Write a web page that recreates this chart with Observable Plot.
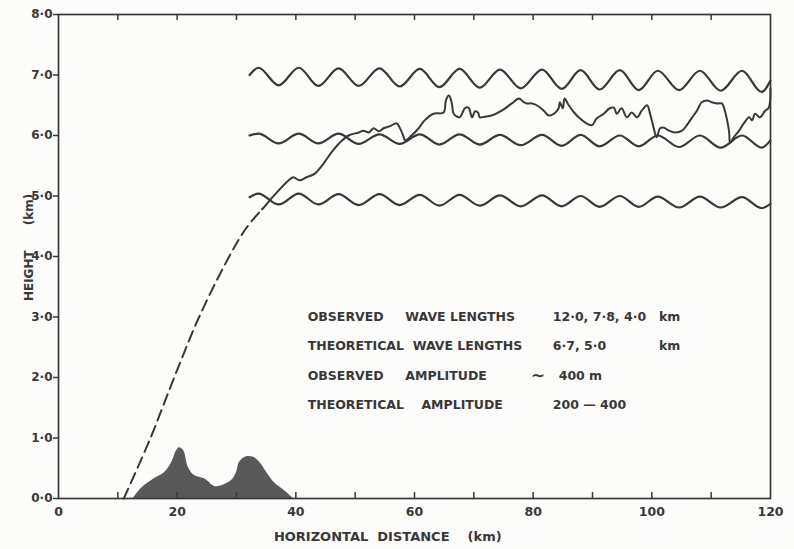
<!DOCTYPE html>
<html><head><meta charset="utf-8">
<script src="https://cdn.jsdelivr.net/npm/d3@7"></script>
<script src="https://cdn.jsdelivr.net/npm/@observablehq/plot@0.6"></script>
<style>
html,body{margin:0;padding:0;background:#fcfcfa;}
#chart svg{display:block;}
</style></head><body><div id="chart"></div>
<script>
// ---- data (km) ----
const xTicks = [0, 20, 40, 60, 80, 100, 120];
const xMinorTicks = [10, 20, 30, 40, 50, 60, 70, 80, 90, 100, 110];
const yTicks = [0, 1, 2, 3, 4, 5, 6, 7, 8];

// extrema positions of the three theoretical waves (shared phase)
const waveX = [32.2, 33.7, 37.1, 40.5, 43.8, 47.2, 50.6, 54.1, 57.5, 60.9, 64.2, 67.6, 71.0, 74.4, 77.9, 81.5, 84.8, 88.0, 91.2, 94.6, 97.8, 101.0, 104.6, 108.1, 111.6, 115.2, 118.5, 120];
const wave7 = [7.0, 7.12, 6.83, 7.12, 6.82, 7.11, 6.82, 7.11, 6.81, 7.10, 6.80, 7.10, 6.79, 7.09, 6.78, 7.09, 6.77, 7.08, 6.76, 7.08, 6.75, 7.07, 6.75, 7.07, 6.74, 7.07, 6.72, 6.91];
const wave6 = [6.0, 6.03, 5.87, 6.03, 5.87, 6.03, 5.86, 6.02, 5.86, 6.02, 5.85, 6.02, 5.85, 6.01, 5.84, 6.01, 5.83, 6.01, 5.82, 6.00, 5.82, 6.00, 5.81, 6.00, 5.80, 6.00, 5.80, 5.92];
const wave5 = [4.98, 5.04, 4.86, 5.04, 4.86, 5.03, 4.85, 5.03, 4.85, 5.02, 4.84, 5.02, 4.84, 5.01, 4.83, 5.01, 4.83, 5.00, 4.82, 5.00, 4.82, 4.99, 4.81, 4.99, 4.81, 4.98, 4.80, 4.87];

// observed streamline (solid)
const obsX = [34.3, 34.6, 35.9, 38.8, 39.6, 40.6, 41.8, 43.2, 44.7, 46.0,
  47.4, 48.9, 50.6, 51.4, 52.3, 53.1, 54.0, 54.8, 55.8, 57.0,
  57.5, 58.2, 58.4, 59.5, 60.7, 61.7, 63.2, 64.9, 65.3, 65.8,
  66.3, 66.6, 67.6, 68.5, 69.1, 69.7, 70.2, 70.7, 71.0, 71.8,
  73.0, 74.7, 76.4, 77.6, 78.4, 78.9, 79.8, 80.6, 81.8, 82.6,
  83.5, 84.3, 84.5, 85.0, 85.3, 86.0, 86.9, 87.9, 89.0, 89.9,
  90.7, 91.9, 92.9, 93.6, 94.1, 94.9, 95.8, 96.6, 97.5, 98.3,
  99.2, 99.7, 100.3, 100.8, 101.4, 102.0, 102.9, 103.9, 105.1, 105.9,
  106.8, 107.6, 108.4, 109.3, 110.1, 111.0, 111.8, 112.3, 113.0, 113.2,
  113.8, 114.7, 115.5, 116.4, 116.9, 117.4, 118.2, 119.1, 119.7, 120.0];
const obsY = [4.78, 4.81, 4.96, 5.26, 5.31, 5.26, 5.31, 5.37, 5.54, 5.72,
  5.88, 6.00, 6.05, 6.08, 6.05, 6.12, 6.07, 6.12, 6.15, 6.20,
  6.13, 5.97, 5.92, 6.00, 6.12, 6.25, 6.36, 6.38, 6.58, 6.66,
  6.53, 6.36, 6.30, 6.45, 6.46, 6.30, 6.40, 6.38, 6.30, 6.31,
  6.33, 6.41, 6.53, 6.61, 6.55, 6.53, 6.53, 6.50, 6.41, 6.33,
  6.36, 6.45, 6.55, 6.45, 6.61, 6.50, 6.38, 6.28, 6.20, 6.17,
  6.28, 6.36, 6.45, 6.46, 6.36, 6.45, 6.30, 6.38, 6.30, 6.41,
  6.50, 6.36, 6.13, 5.97, 6.12, 6.13, 6.08, 6.05, 6.08, 6.17,
  6.30, 6.41, 6.55, 6.58, 6.55, 6.53, 6.53, 6.41, 6.08, 5.88,
  5.97, 6.08, 6.20, 6.30, 6.25, 6.36, 6.30, 6.41, 6.46, 6.78];

// inferred streamline (dashed)
const dashX = [11.0, 15.5, 19.5, 23.7, 28.5, 31.5, 34.3];
const dashY = [0, 1.0, 2.0, 3.0, 3.95, 4.45, 4.78];

// terrain profile
const mtnX = [12.6, 14.0, 16.2, 17.9, 19.1, 19.9, 20.4, 21.1, 21.9, 22.9, 24.5, 25.0, 26.3, 27.5, 29.2, 30.0, 30.5, 31.7, 32.9, 33.9, 35.1, 36.4, 38.1, 39.6];
const mtnY = [0, 0.17, 0.33, 0.43, 0.60, 0.79, 0.84, 0.79, 0.51, 0.38, 0.33, 0.30, 0.20, 0.21, 0.30, 0.43, 0.60, 0.69, 0.68, 0.60, 0.43, 0.26, 0.13, 0];

// annotation texts
const noteLabels = [
  "OBSERVED\u00a0\u00a0\u00a0\u00a0\u00a0WAVE LENGTHS",
  "THEORETICAL\u00a0\u00a0WAVE LENGTHS",
  "OBSERVED\u00a0\u00a0\u00a0\u00a0\u00a0AMPLITUDE",
  "THEORETICAL\u00a0\u00a0\u00a0\u00a0AMPLITUDE"];
const noteValues = ["12\u00b70, 7\u00b78, 4\u00b70", "6\u00b77, 5\u00b70", "400\u00a0m", "200\u00a0\u2014\u00a0400"];
const noteUnits = ["km", "km"];
const xTitle = "HORIZONTAL\u00a0\u00a0DISTANCE\u00a0\u00a0\u00a0\u00a0(km)";
const yTitle = "HEIGHT\u00a0\u00a0\u00a0\u00a0\u00a0\u00a0(km)";

// ---- build ----
const pts = (xs, ys) => xs.map((x, i) => ({x, y: ys[i]}));
const ink = "#383838";
const fmt = d => d.toFixed(1).replace(".", "\u00b7");
const txt = {fill: ink, fontSize: 12, fontWeight: "bold", fontFamily: "DejaVu Sans, sans-serif"};
const lineY = (d, i) => 3.0 - i * 0.485;

const chart = Plot.plot({
  width: 794, height: 549,
  marginLeft: 58, marginRight: 24, marginTop: 14, marginBottom: 51,
  style: {background: "transparent", fontFamily: "DejaVu Sans, sans-serif", fontWeight: "bold", fontSize: "12px", color: ink},
  x: {domain: [0, 120]},
  y: {domain: [0, 8]},
  marks: [
    Plot.areaY(pts(mtnX, mtnY), {x: "x", y: "y", fill: "#595959", curve: "catmull-rom"}),
    Plot.line(pts(dashX, dashY), {x: "x", y: "y", stroke: ink, strokeWidth: 2, strokeDasharray: "11,6", curve: "catmull-rom"}),
    Plot.line(pts(waveX, wave7), {x: "x", y: "y", stroke: ink, strokeWidth: 2.2, curve: "monotone-x"}),
    Plot.line(pts(waveX, wave6), {x: "x", y: "y", stroke: ink, strokeWidth: 2.2, curve: "monotone-x"}),
    Plot.line(pts(waveX, wave5), {x: "x", y: "y", stroke: ink, strokeWidth: 2.2, curve: "monotone-x"}),
    Plot.line(pts(obsX, obsY), {x: "x", y: "y", stroke: ink, strokeWidth: 2, curve: "catmull-rom", strokeLinejoin: "round"}),
    Plot.frame({stroke: ink, strokeWidth: 1.7}),
    Plot.tickX(xMinorTicks, {x: d => d, stroke: ink, strokeWidth: 1.5, insetTop: 478}),
    Plot.tickX(xMinorTicks, {x: d => d, stroke: ink, strokeWidth: 1.5, insetBottom: 478}),
    Plot.axisY({ticks: yTicks, tickFormat: fmt, tickSize: 5, tickPadding: 1, label: null, strokeWidth: 1.5, ...txt}),
    Plot.axisX({ticks: xTicks, tickFormat: d => String(d), tickSize: 0, tickPadding: 9, label: null, ...txt, fontSize: 12.5}),
    Plot.text([xTitle], {x: 55.5, y: 0, dy: 38, text: d => d, textAnchor: "middle", ...txt, fontSize: 13}),
    Plot.text([yTitle], {x: 0, y: 4.15, dx: -29, text: d => d, rotate: -90, textAnchor: "middle", ...txt, fontSize: 12}),
    Plot.text(noteLabels, {x: 42.0, y: lineY, text: d => d, textAnchor: "start", ...txt, fontSize: 12.5}),
    Plot.text(noteValues, {x: (d, i) => i === 2 ? 84.3 : 83.3, y: lineY, text: d => d, textAnchor: "start", ...txt, fontSize: 12.5}),
    Plot.text(noteUnits, {x: 101.2, y: lineY, text: d => d, textAnchor: "start", ...txt, fontSize: 12.5}),
    Plot.text(["\u223c"], {x: 79.6, y: 3.0 - 2 * 0.485, text: d => d, textAnchor: "start", ...txt, fontSize: 17})
  ]
});
document.getElementById("chart").appendChild(chart);
</script></body></html>
